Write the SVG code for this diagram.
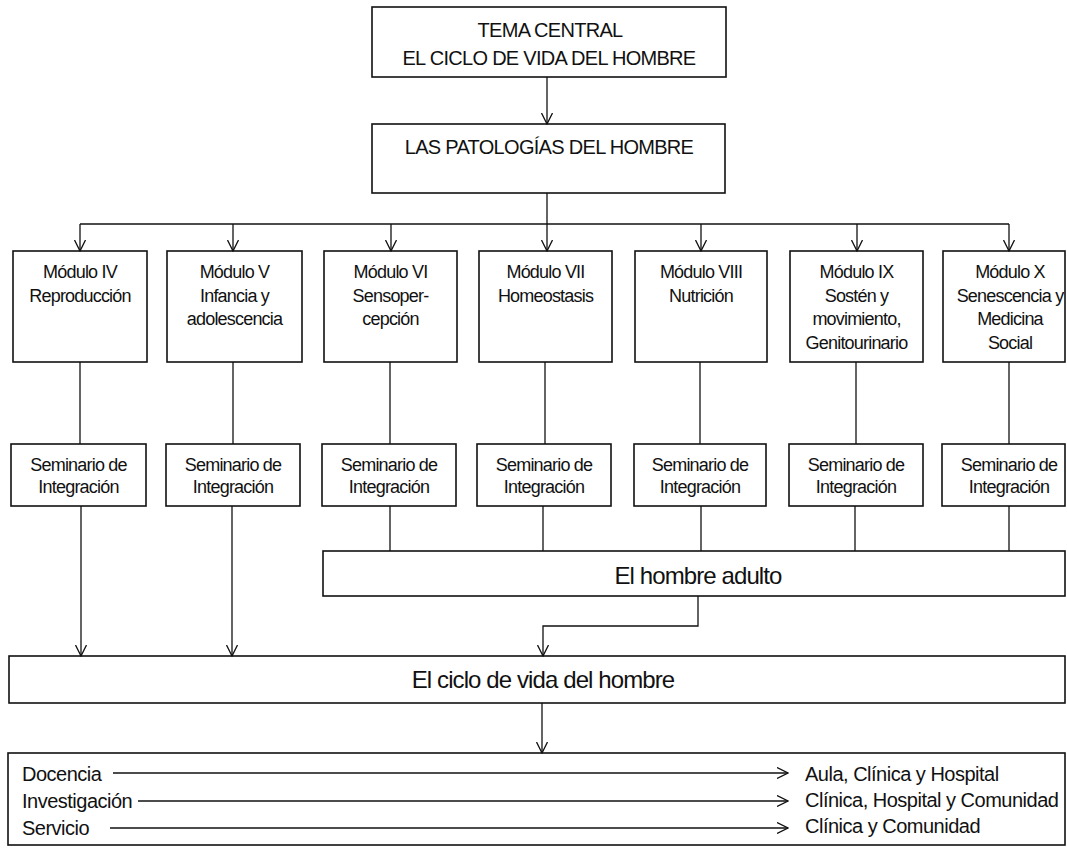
<svg xmlns="http://www.w3.org/2000/svg" width="1067" height="848" viewBox="0 0 1067 848">
<style>
  .box { fill: #fff; stroke: #111; stroke-width: 1.6; }
  .ln { fill: none; stroke: #111; stroke-width: 1.3; }
  .t { font-family: 'Liberation Sans', Arial, sans-serif; fill: #111; text-anchor: middle; }
  .hd { font-size: 20px; letter-spacing: -0.7px; }
  .md { font-size: 18px; letter-spacing: -0.8px; }
  .bg { font-size: 24px; letter-spacing: -0.9px; }
  .rw { font-size: 20px; letter-spacing: -0.5px; text-anchor: start; }
</style>
<defs>
  <marker id="arr" viewBox="0 0 12 12" refX="11.5" refY="6" markerWidth="12" markerHeight="12" markerUnits="userSpaceOnUse" orient="auto">
    <path d="M0.5,0.5 L11.5,6 L0.5,11.5" fill="none" stroke="#111" stroke-width="1.3"/>
  </marker>
</defs>
<rect width="1067" height="848" fill="#fff"/>

<g id="tema-central">
  <rect class="box" x="372" y="7" width="354" height="70"/>
  <text class="t hd" x="550" y="37">TEMA CENTRAL</text>
  <text class="t hd" x="549" y="65">EL CICLO DE VIDA DEL HOMBRE</text>
</g>

<g id="patologias">
  <rect class="box" x="372" y="124" width="353" height="69"/>
  <text class="t hd" x="549" y="154">LAS PATOLOGÍAS DEL HOMBRE</text>
</g>

<g id="modulo-iv">
  <rect class="box" x="13" y="251" width="134" height="111"/>
  <text class="t md" x="80" y="278">Módulo IV</text>
  <text class="t md" x="80" y="301.5">Reproducción</text>
</g>
<g id="modulo-v">
  <rect class="box" x="167" y="251" width="135" height="111"/>
  <text class="t md" x="234.5" y="278">Módulo V</text>
  <text class="t md" x="234.5" y="301.5">Infancia y</text>
  <text class="t md" x="234.5" y="325">adolescencia</text>
</g>
<g id="modulo-vi">
  <rect class="box" x="324" y="251" width="133" height="111"/>
  <text class="t md" x="390.5" y="278">Módulo VI</text>
  <text class="t md" x="390.5" y="301.5">Sensoper-</text>
  <text class="t md" x="390.5" y="325">cepción</text>
</g>
<g id="modulo-vii">
  <rect class="box" x="479" y="251" width="133" height="111"/>
  <text class="t md" x="545.5" y="278">Módulo VII</text>
  <text class="t md" x="545.5" y="301.5">Homeostasis</text>
</g>
<g id="modulo-viii">
  <rect class="box" x="635" y="251" width="132" height="111"/>
  <text class="t md" x="701" y="278">Módulo VIII</text>
  <text class="t md" x="701" y="301.5">Nutrición</text>
</g>
<g id="modulo-ix">
  <rect class="box" x="790" y="251" width="133" height="111"/>
  <text class="t md" x="856.5" y="278">Módulo IX</text>
  <text class="t md" x="856.5" y="301.5">Sostén y</text>
  <text class="t md" x="856.5" y="325">movimiento,</text>
  <text class="t md" x="856.5" y="348.5">Genitourinario</text>
</g>
<g id="modulo-x">
  <rect class="box" x="943" y="251" width="122" height="111"/>
  <text class="t md" x="1010" y="278">Módulo X</text>
  <text class="t md" x="1010" y="301.5">Senescencia y</text>
  <text class="t md" x="1010" y="325">Medicina</text>
  <text class="t md" x="1010" y="348.5">Social</text>
</g>

<g id="seminario-iv">
  <rect class="box" x="11" y="444" width="135" height="62"/>
  <text class="t md" x="78.5" y="471">Seminario de</text>
  <text class="t md" x="78.5" y="493">Integración</text>
</g>
<g id="seminario-v">
  <rect class="box" x="166" y="444" width="134" height="62"/>
  <text class="t md" x="233" y="471">Seminario de</text>
  <text class="t md" x="233" y="493">Integración</text>
</g>
<g id="seminario-vi">
  <rect class="box" x="322" y="444" width="134" height="62"/>
  <text class="t md" x="389" y="471">Seminario de</text>
  <text class="t md" x="389" y="493">Integración</text>
</g>
<g id="seminario-vii">
  <rect class="box" x="477" y="444" width="134" height="62"/>
  <text class="t md" x="544" y="471">Seminario de</text>
  <text class="t md" x="544" y="493">Integración</text>
</g>
<g id="seminario-viii">
  <rect class="box" x="634" y="444" width="132" height="62"/>
  <text class="t md" x="700" y="471">Seminario de</text>
  <text class="t md" x="700" y="493">Integración</text>
</g>
<g id="seminario-ix">
  <rect class="box" x="789" y="444" width="134" height="62"/>
  <text class="t md" x="856" y="471">Seminario de</text>
  <text class="t md" x="856" y="493">Integración</text>
</g>
<g id="seminario-x">
  <rect class="box" x="942" y="444" width="123" height="62"/>
  <text class="t md" x="1009" y="471">Seminario de</text>
  <text class="t md" x="1009" y="493">Integración</text>
</g>

<g id="hombre-adulto">
  <rect class="box" x="323" y="551" width="742" height="45"/>
  <text class="t bg" x="698" y="584">El hombre adulto</text>
</g>

<g id="ciclo-vida">
  <rect class="box" x="9" y="656" width="1056" height="47"/>
  <text class="t bg" x="543" y="688">El ciclo de vida del hombre</text>
</g>

<g id="funciones">
  <rect class="box" x="8" y="753" width="1057" height="92"/>
  <text class="t rw" x="22" y="781">Docencia</text>
  <text class="t rw" x="22" y="808">Investigación</text>
  <text class="t rw" x="22" y="835">Servicio</text>
  <text class="t rw" x="805" y="781">Aula, Clínica y Hospital</text>
  <text class="t rw" x="805" y="807">Clínica, Hospital y Comunidad</text>
  <text class="t rw" x="805" y="833">Clínica y Comunidad</text>
</g>

<g id="connectors">
  <line class="ln" x1="547" y1="77" x2="547" y2="124" marker-end="url(#arr)"/>
  <line class="ln" x1="547" y1="193" x2="547" y2="224"/>
  <line class="ln" x1="80" y1="224" x2="1009" y2="224"/>
  <line class="ln" x1="80" y1="224" x2="80" y2="251" marker-end="url(#arr)"/>
  <line class="ln" x1="233" y1="224" x2="233" y2="251" marker-end="url(#arr)"/>
  <line class="ln" x1="391" y1="224" x2="391" y2="251" marker-end="url(#arr)"/>
  <line class="ln" x1="547" y1="224" x2="547" y2="251" marker-end="url(#arr)"/>
  <line class="ln" x1="701" y1="224" x2="701" y2="251" marker-end="url(#arr)"/>
  <line class="ln" x1="857" y1="224" x2="857" y2="251" marker-end="url(#arr)"/>
  <line class="ln" x1="1009" y1="224" x2="1009" y2="251" marker-end="url(#arr)"/>
  <line class="ln" x1="80" y1="362" x2="80" y2="444"/>
  <line class="ln" x1="233" y1="362" x2="233" y2="444"/>
  <line class="ln" x1="390" y1="362" x2="390" y2="444"/>
  <line class="ln" x1="545" y1="362" x2="545" y2="444"/>
  <line class="ln" x1="700" y1="362" x2="700" y2="444"/>
  <line class="ln" x1="856" y1="362" x2="856" y2="444"/>
  <line class="ln" x1="1009" y1="362" x2="1009" y2="444"/>
  <line class="ln" x1="81" y1="506" x2="81" y2="656" marker-end="url(#arr)"/>
  <line class="ln" x1="232" y1="506" x2="232" y2="656" marker-end="url(#arr)"/>
  <line class="ln" x1="390" y1="506" x2="390" y2="551"/>
  <line class="ln" x1="543" y1="506" x2="543" y2="551"/>
  <line class="ln" x1="701" y1="506" x2="701" y2="551"/>
  <line class="ln" x1="855" y1="506" x2="855" y2="551"/>
  <line class="ln" x1="1009" y1="506" x2="1009" y2="551"/>
  <polyline class="ln" points="698,596 698,626 543,626 543,656" marker-end="url(#arr)"/>
  <line class="ln" x1="542" y1="703" x2="542" y2="753" marker-end="url(#arr)"/>
  <line class="ln" x1="113" y1="773" x2="788" y2="773" marker-end="url(#arr)"/>
  <line class="ln" x1="138" y1="801" x2="788" y2="801" marker-end="url(#arr)"/>
  <line class="ln" x1="110" y1="828" x2="788" y2="828" marker-end="url(#arr)"/>
</g>
</svg>
